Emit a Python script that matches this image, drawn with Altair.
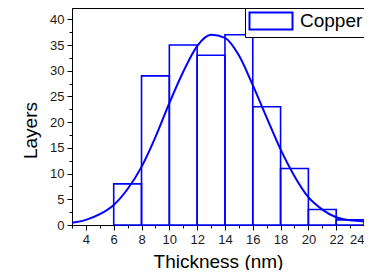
import altair as alt
import pandas as pd

# Histogram bins (nm) and counts
bin_start = [6, 8, 10, 12, 14, 16, 18, 20, 22]
bin_end = [8, 10, 12, 14, 16, 18, 20, 22, 24]
counts = [8, 29, 35, 33, 37, 23, 11, 3, 1]

# Fitted curve
curve_x = [3, 4, 5, 6, 7, 8, 9, 10, 11, 12, 13, 14, 15, 16, 17, 18, 19, 20, 21, 22, 23, 24]
curve_y = [0.45, 1.0, 2.1, 3.9, 7.0, 11.3, 17.1, 23.7, 29.8, 34.8, 37.0, 36.4, 33.0,
           27.2, 20.9, 14.7, 9.5, 5.4, 3.0, 1.5, 0.9, 0.7]

x_major = [4, 6, 8, 10, 12, 14, 16, 18, 20, 22, 24]
x_minor = [3, 5, 7, 9, 11, 13, 15, 17, 19, 21, 23]
y_major = [0, 5, 10, 15, 20, 25, 30, 35, 40]
y_minor = [2.5, 7.5, 12.5, 17.5, 22.5, 27.5, 32.5, 37.5]

series_name = "Copper"
BLUE = "#0000ff"
FONT = "Liberation Sans"

bars_df = pd.DataFrame({"x0": bin_start, "x1": bin_end, "n": counts,
                        "series": [series_name] * len(counts)})
curve_df = pd.DataFrame({"x": curve_x, "y": curve_y})

xscale = alt.Scale(domain=[3, 24], nice=False, zero=False)
yscale = alt.Scale(domain=[0, 42.2], nice=False)

bars = alt.Chart(bars_df).mark_bar(fill="white", fillOpacity=0, strokeWidth=1.6).encode(
    x=alt.X("x0:Q", scale=xscale,
            axis=alt.Axis(values=x_major, title="Thickness (nm)", orient="bottom",
                          tickSize=5, labelPadding=3, titlePadding=6, grid=False)),
    x2="x1:Q",
    y=alt.Y("n:Q", scale=yscale,
            axis=alt.Axis(values=y_major, title="Layers", orient="left",
                          tickSize=5, labelPadding=3, titlePadding=9, grid=False,
                          titleY=122)),
    y2=alt.datum(0),
    stroke=alt.Stroke("series:N", scale=alt.Scale(domain=[series_name], range=[BLUE]),
                      legend=alt.Legend(title=None, orient="none", legendX=173, legendY=0,
                                        symbolType="M-2.5,-1H2.5V1H-2.5Z",
                                        symbolSize=296, symbolStrokeWidth=2,
                                        symbolFillColor="white", symbolStrokeColor=BLUE,
                                        symbolOffset=13, labelOffset=19,
                                        labelFontSize=19, labelFont=FONT, labelColor="black",
                                        padding=3, strokeColor="black", fillColor="white",
                                        cornerRadius=0)),
)

curve = alt.Chart(curve_df).mark_line(color=BLUE, strokeWidth=2, interpolate="monotone",
                                      clip=True).encode(
    x=alt.X("x:Q", scale=xscale,
            axis=alt.Axis(values=x_minor, labels=False, title=None, orient="bottom",
                          tickSize=3, domain=False, grid=False)),
    y=alt.Y("y:Q", scale=yscale,
            axis=alt.Axis(values=y_minor, labels=False, title=None, orient="left",
                          tickSize=3, domain=False, grid=False)),
)

chart = alt.layer(bars, curve).resolve_axis(x="independent", y="independent").properties(
    width=292, height=217,
    autosize=alt.AutoSizeParams(type="none"),
    padding={"left": 64, "top": 0, "right": 0, "bottom": 45},
).configure_view(stroke="black", strokeWidth=1).configure_axis(
    labelFont=FONT, titleFont=FONT, labelFontSize=13, titleFontSize=19,
    titleFontWeight="normal", labelColor="#1a1a1a", titleColor="black",
    domainColor="black", tickColor="black", domainWidth=1, tickWidth=1,
)

chart.save("out.html", embed_options={"renderer": "svg", "actions": False})
